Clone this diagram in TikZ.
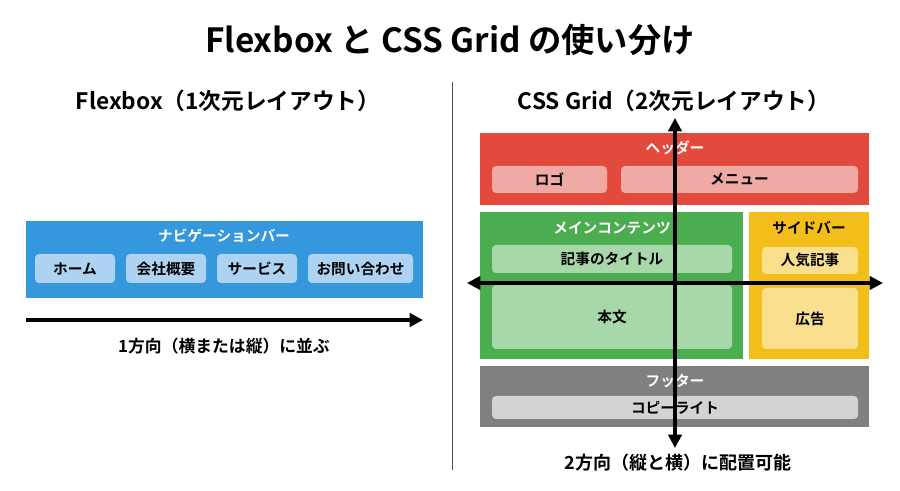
\documentclass[tikz,border=0pt]{standalone}
\usepackage{fontspec}
\setmainfont{Noto Sans CJK JP}[BoldFont={Noto Sans CJK JP Bold}]
\usetikzlibrary{arrows.meta}
\definecolor{cblue}{HTML}{3598DC}
\definecolor{lblue}{HTML}{AED3F2}
\definecolor{cred}{HTML}{E24A3E}
\definecolor{lred}{HTML}{EFAAA5}
\definecolor{cgreen}{HTML}{4CAD50}
\definecolor{lgreen}{HTML}{A8D8AA}
\definecolor{cyellow}{HTML}{F3BE1A}
\definecolor{lyellow}{HTML}{FADF8E}
\definecolor{cgray}{HTML}{808080}
\definecolor{lgray}{HTML}{D3D3D3}
\newcommand\rbox[7]{\node[#6, minimum width={(#4-#2)*0.75pt}, minimum height={(#5-#3)*0.75pt}] (#1) at ({(#2+#4)/2},{(#3+#5)/2}) {#7};}
\begin{document}
\begin{tikzpicture}[x=0.75pt,y=-0.75pt,
  cont/.style={draw=none,inner sep=0pt,outer sep=0pt},
  item/.style={draw=none,inner sep=0pt,outer sep=0pt,rounded corners=3pt,font=\fontsize{11}{13}\selectfont\bfseries,text=black},
  ctitle/.style={inner sep=0pt,font=\fontsize{11}{13}\selectfont\bfseries},
  sub/.style={inner sep=0pt,font=\fontsize{13.5}{16}\selectfont\bfseries},
  subs/.style={inner sep=0pt,font=\fontsize{12.6}{15}\selectfont\bfseries},
  head/.style={inner sep=0pt,font=\fontsize{17}{20}\selectfont\bfseries},
  arr/.style={line width=2.3pt,-{Triangle[length=10pt,width=10pt]}},
  darr/.style={line width=2.3pt,{Triangle[length=10pt,width=10pt]}-{Triangle[length=10pt,width=10pt]}}]
\useasboundingbox[fill=white] (0,0) rectangle (900,491);
% title
\node[inner sep=0pt,font=\fontsize{25}{30}\selectfont\bfseries] (title) at (450,40) {Flexbox と CSS Grid の使い分け};
% divider
\coordinate (d1) at (452,82); \coordinate (d2) at (452,470);
\draw[line width=0.6pt,black!70] (d1) -- (d2);
% left
\node[head] (lhead) at (228,101) {Flexbox（1次元レイアウト）};
\rbox{nav}{26}{221}{423}{298}{cont,fill=cblue}{}
\node[ctitle,text=white] (navt) at (224,236) {ナビゲーションバー};
\rbox{home}{35}{254}{115}{283}{item,fill=lblue}{ホーム}
\rbox{about}{126}{254}{206}{283}{item,fill=lblue}{会社概要}
\rbox{serv}{217}{254}{297}{283}{item,fill=lblue}{サービス}
\rbox{contact}{308}{254}{413}{283}{item,fill=lblue}{お問い合わせ}
\coordinate (la) at (26,320); \coordinate (lb) at (423,320);
\draw[arr] (la) -- (lb);
\node[subs] (ltxt) at (224,346) {1方向（横または縦）に並ぶ};
% right
\node[head] (rhead) at (674,101) {CSS Grid（2次元レイアウト）};
\rbox{header}{480}{133}{869}{205}{cont,fill=cred}{}
\node[ctitle,text=white] (headert) at (675,148) {ヘッダー};
\rbox{logo}{492}{166}{607}{193}{item,fill=lred}{ロゴ}
\rbox{menu}{621}{166}{858}{193}{item,fill=lred}{メニュー}
\rbox{main}{480}{212}{743}{359}{cont,fill=cgreen}{}
\node[ctitle,text=white] (maint) at (612,228) {メインコンテンツ};
\rbox{atitle}{492}{245}{732}{273}{item,fill=lgreen}{記事のタイトル}
\rbox{body}{492}{285}{732}{349}{item,fill=lgreen}{本文}
\rbox{side}{749}{212}{869}{359}{cont,fill=cyellow}{}
\node[ctitle,text=black] (sidet) at (809,228) {サイドバー};
\rbox{pop}{762}{247}{858}{274}{item,fill=lyellow}{人気記事}
\rbox{ad}{762}{288}{858}{349}{item,fill=lyellow}{広告}
\rbox{footer}{480}{366}{869}{427}{cont,fill=cgray}{}
\node[ctitle,text=white] (footert) at (675,381) {フッター};
\rbox{copy}{492}{396}{858}{419}{item,fill=lgray}{コピーライト}
\coordinate (va) at (675,118); \coordinate (vb) at (675,448);
\coordinate (ha) at (467,283); \coordinate (hb) at (883,283);
\draw[darr] (va) -- (vb);
\draw[darr] (ha) -- (hb);
\node[sub] (rtxt) at (678,463) {2方向（縦と横）に配置可能};
\end{tikzpicture}
\end{document}
